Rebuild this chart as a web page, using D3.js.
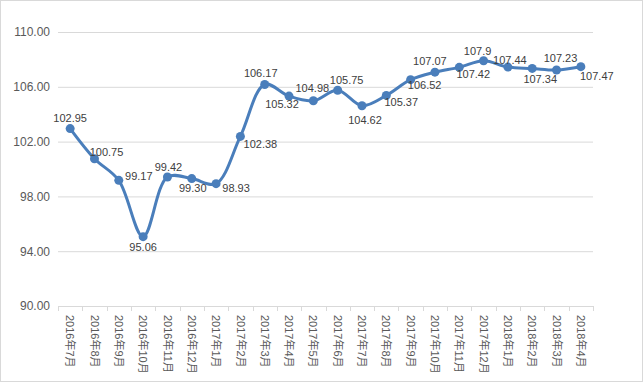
<!DOCTYPE html>
<html>
<head>
<meta charset="utf-8">
<script src="https://cdn.jsdelivr.net/npm/d3@7"></script>
<style>
  body { margin: 0; background: #fff; }
  svg { display: block; }
</style>
</head>
<body>
<svg width="643" height="382"></svg>
<script>
const months = [
  '2016年7月', '2016年8月', '2016年9月', '2016年10月', '2016年11月', '2016年12月',
  '2017年1月', '2017年2月', '2017年3月', '2017年4月', '2017年5月', '2017年6月',
  '2017年7月', '2017年8月', '2017年9月', '2017年10月', '2017年11月', '2017年12月',
  '2018年1月', '2018年2月', '2018年3月', '2018年4月',
];
const values = [
  102.95, 100.75, 99.17, 95.06, 99.42, 99.30,
  98.93, 102.38, 106.17, 105.32, 104.98, 105.75,
  104.62, 105.37, 106.52, 107.07, 107.42, 107.9,
  107.44, 107.34, 107.23, 107.47,
];
const valueLabels = [
  '102.95', '100.75', '99.17', '95.06', '99.42', '99.30',
  '98.93', '102.38', '106.17', '105.32', '104.98', '105.75',
  '104.62', '105.37', '106.52', '107.07', '107.42', '107.9',
  '107.44', '107.34', '107.23', '107.47',
];
const yTicks = [90, 94, 98, 102, 106, 110];

// where each data label sits relative to its point (label centre offset)
const labelOffsets = [
  [0, -10], [12, -7], [20, -4], [0, 10], [1, -10], [1, 10],
  [20, 4], [20, 8], [-4, -11], [-7, 8], [-1, -13], [9, -10],
  [3, 14], [15, 7], [14, 5], [-5, -11], [14, 7], [-6, -10],
  [2, -7], [8, 11], [4, -12], [16, 9],
];

const svg = d3.select('svg');
const width = +svg.attr('width');
const height = +svg.attr('height');
const margin = {top: 32, right: 50, bottom: 76, left: 58};

svg.append('rect')
  .attr('x', 0.5).attr('y', 0.5)
  .attr('width', width - 1).attr('height', height - 1)
  .attr('fill', '#fff')
  .attr('stroke', '#d9d9d9');

const x = d3.scaleBand()
  .domain(months)
  .range([margin.left, width - margin.right]);

const y = d3.scaleLinear()
  .domain([90, 110])
  .range([height - margin.bottom, margin.top]);

const font = '"Liberation Sans", "Noto Sans CJK SC", sans-serif';

// gridlines + y labels
const yAxis = svg.append('g')
  .attr('transform', `translate(${margin.left},0)`)
  .call(d3.axisLeft(y).tickValues(yTicks).tickFormat(d3.format('.2f'))
    .tickSize(-(width - margin.left - margin.right)).tickPadding(8));
yAxis.select('.domain').remove();
yAxis.selectAll('.tick line')
  .attr('stroke', d => d === 90 ? 'none' : '#d9d9d9');
yAxis.selectAll('.tick text')
  .attr('fill', '#595959')
  .style('font-family', font)
  .style('font-size', '12px');

// x axis
const xAxis = svg.append('g')
  .attr('transform', `translate(0,${height - margin.bottom})`)
  .call(d3.axisBottom(x).tickSize(0));
xAxis.select('.domain').attr('stroke', '#d9d9d9');
xAxis.selectAll('.tick text')
  .attr('fill', '#595959')
  .attr('transform', 'rotate(90)')
  .attr('x', 9)
  .attr('y', 0)
  .attr('dy', '0.35em')
  .attr('text-anchor', 'start')
  .style('font-family', font)
  .style('font-size', '11px');

// tick marks on band boundaries
const bounds = months.map(m => x(m)).concat([x.range()[1]]);
xAxis.selectAll('line.bound')
  .data(bounds)
  .enter().append('line')
    .attr('class', 'bound')
    .attr('x1', d => Math.round(d) + 0.5)
    .attr('x2', d => Math.round(d) + 0.5)
    .attr('y1', 0)
    .attr('y2', 5)
    .attr('stroke', '#d9d9d9');

const cx = i => x(months[i]) + x.bandwidth() / 2;
const color = '#4a7ebb';

const line = d3.line()
  .x((d, i) => cx(i))
  .y(d => y(d))
  .curve(d3.curveCatmullRom.alpha(0.5));

svg.append('path')
  .datum(values)
  .attr('d', line)
  .attr('fill', 'none')
  .attr('stroke', color)
  .attr('stroke-width', 3)
  .attr('stroke-linejoin', 'round')
  .attr('stroke-linecap', 'round');

svg.append('g').selectAll('circle')
  .data(values)
  .enter().append('circle')
    .attr('cx', (d, i) => cx(i))
    .attr('cy', d => y(d))
    .attr('r', 4.5)
    .attr('fill', color);

svg.append('g').selectAll('text')
  .data(values)
  .enter().append('text')
    .attr('x', (d, i) => cx(i) + labelOffsets[i][0])
    .attr('y', (d, i) => y(d) + labelOffsets[i][1])
    .attr('dy', '0.35em')
    .attr('text-anchor', 'middle')
    .attr('fill', '#404040')
    .style('font-family', font)
    .style('font-size', '11px')
    .text((d, i) => valueLabels[i]);
</script>
</body>
</html>
